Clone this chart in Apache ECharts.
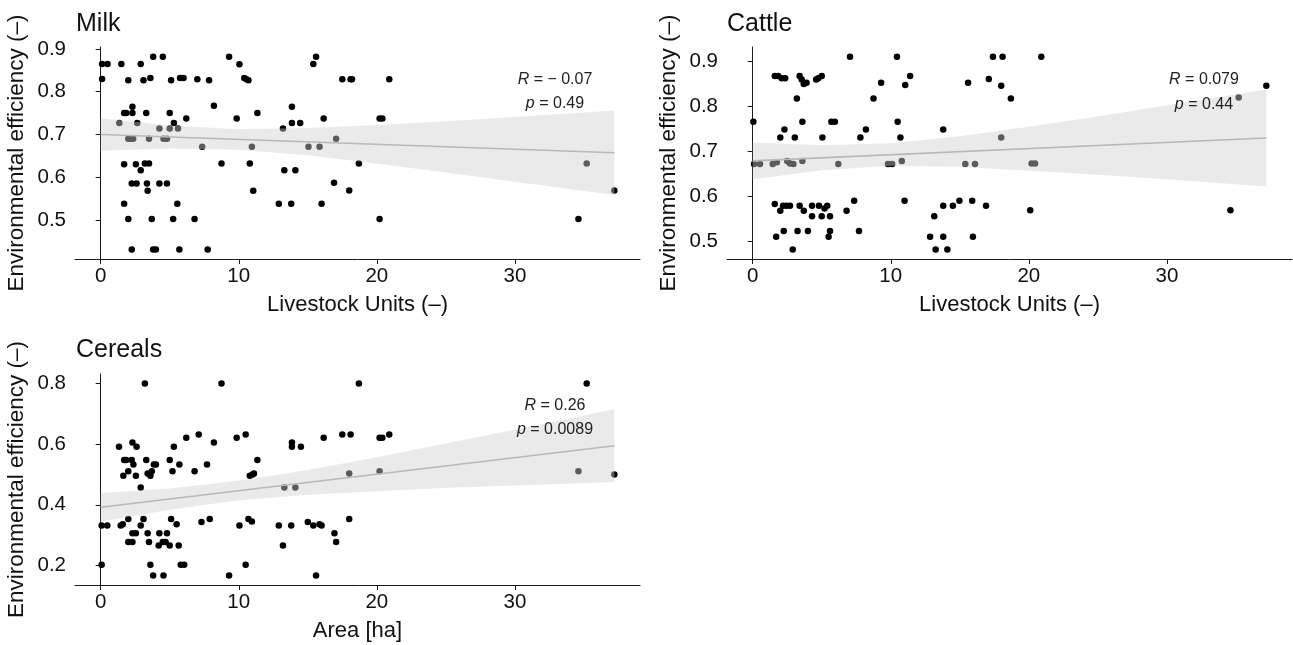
<!DOCTYPE html>
<html><head><meta charset="utf-8">
<script src="https://cdn.jsdelivr.net/npm/echarts@6/dist/echarts.min.js"></script>
<style>html,body{margin:0;padding:0;background:#fff}#c{width:1293px;height:645px}</style>
</head><body><div id="c"></div>
<script>
// ---------- data ----------
const panelTitles = ['Milk', 'Cattle', 'Cereals'];
const xAxisTitles = ['Livestock Units (–)', 'Livestock Units (–)', 'Area [ha]'];
const yAxisTitle = 'Environmental efficiency (–)';
const xTicks = [0, 10, 20, 30];
const yTicksMilk = [0.5, 0.6, 0.7, 0.8, 0.9];
const yTicksCattle = [0.5, 0.6, 0.7, 0.8, 0.9];
const yTicksCereals = [0.2, 0.4, 0.6, 0.8];

const milkPoints = [
  [0.1,0.83],[0.1,0.865],[0.5,0.865],[1.5,0.865],[2.0,0.827],[2.9,0.865],[3.1,0.827],[3.6,0.832],[3.8,0.882],[4.5,0.882],
  [5.1,0.827],[5.75,0.832],[6.0,0.832],[7.0,0.829],[7.85,0.827],[8.2,0.767],[9.3,0.882],[10.05,0.864],[10.4,0.832],[10.55,0.829],
  [10.7,0.827],[9.85,0.737],[11.35,0.75],[6.2,0.737],[1.7,0.75],[1.85,0.75],[2.3,0.765],[2.3,0.75],[3.3,0.75],[5.0,0.75],
  [5.3,0.727],[1.35,0.727],[2.65,0.727],[2.0,0.69],[2.2,0.69],[2.35,0.69],[3.5,0.69],[4.25,0.714],[4.55,0.69],[4.8,0.69],
  [5.0,0.714],[5.6,0.714],[7.35,0.671],[10.95,0.671],[13.2,0.714],[15.05,0.671],[15.85,0.671],[1.7,0.63],[2.55,0.63],[3.2,0.632],
  [3.5,0.632],[2.9,0.616],[2.25,0.585],[2.6,0.585],[3.35,0.585],[3.4,0.568],[4.25,0.585],[4.8,0.585],[1.7,0.538],[2.0,0.502],
  [3.7,0.502],[5.25,0.502],[5.55,0.538],[6.8,0.502],[2.25,0.431],[3.8,0.431],[4.0,0.431],[5.7,0.431],[7.75,0.431],[8.75,0.632],
  [10.8,0.632],[11.05,0.568],[12.9,0.538],[13.8,0.538],[13.3,0.616],[14.1,0.616],[13.85,0.765],[13.85,0.727],[14.45,0.727],[15.4,0.865],
  [15.6,0.882],[16.15,0.737],[16.0,0.538],[17.05,0.69],[17.5,0.829],[18.1,0.829],[18.2,0.829],[20.9,0.829],[20.2,0.737],[20.4,0.737],
  [18.7,0.632],[16.9,0.587],[18.0,0.569],[20.2,0.502],[34.6,0.502],[35.2,0.632],[37.2,0.569]
];
const cattlePoints = [
  [0.05,0.766],[0.1,0.672],[0.53,0.672],[1.6,0.583],[1.7,0.51],[1.6,0.868],[1.85,0.868],[2.1,0.863],[2.35,0.863],[1.45,0.672],
  [1.75,0.676],[2.0,0.731],[2.3,0.749],[2.0,0.568],[2.2,0.579],[2.45,0.579],[2.7,0.579],[2.25,0.523],[2.5,0.679],[2.7,0.673],
  [2.95,0.672],[3.05,0.731],[3.2,0.818],[2.9,0.482],[3.4,0.868],[3.55,0.86],[3.7,0.85],[3.9,0.853],[3.6,0.766],[3.6,0.679],
  [3.4,0.579],[3.7,0.568],[3.25,0.523],[4.0,0.523],[4.3,0.556],[4.3,0.579],[4.8,0.579],[4.6,0.86],[4.75,0.863],[5.0,0.868],
  [5.05,0.731],[5.0,0.556],[5.2,0.573],[5.4,0.579],[5.6,0.556],[5.6,0.523],[5.5,0.51],[5.7,0.766],[5.95,0.766],[6.2,0.672],
  [6.8,0.568],[7.05,0.911],[7.35,0.59],[7.7,0.523],[7.8,0.731],[8.2,0.749],[8.75,0.818],[9.3,0.853],[9.8,0.672],[10.1,0.672],
  [10.45,0.911],[10.5,0.766],[10.7,0.731],[10.8,0.679],[11.05,0.848],[11.4,0.868],[11.0,0.59],[12.85,0.51],[13.15,0.556],[13.25,0.482],
  [13.8,0.749],[13.8,0.579],[13.8,0.51],[14.1,0.482],[14.5,0.579],[14.97,0.59],[15.4,0.672],[16.1,0.672],[15.6,0.853],[15.9,0.59],
  [15.95,0.51],[17.4,0.911],[18.1,0.911],[17.1,0.861],[18.0,0.846],[18.7,0.818],[18.0,0.731],[16.9,0.579],[20.1,0.569],[20.2,0.673],
  [20.45,0.673],[20.9,0.911],[34.6,0.569],[35.2,0.82],[37.2,0.846]
];
const cerealsPoints = [
  [0.07,0.202],[0.07,0.332],[0.48,0.332],[1.33,0.592],[1.45,0.332],[1.6,0.336],[1.7,0.548],[1.85,0.548],[1.64,0.496],[2.0,0.511],
  [2.0,0.353],[2.0,0.277],[2.3,0.277],[2.3,0.606],[2.25,0.548],[2.37,0.533],[2.3,0.306],[2.55,0.306],[2.6,0.592],[2.55,0.496],
  [2.9,0.457],[2.9,0.332],[3.1,0.353],[3.2,0.8],[3.3,0.548],[3.4,0.306],[3.4,0.503],[3.6,0.496],[3.7,0.511],[3.85,0.533],
  [4.0,0.533],[3.5,0.277],[3.6,0.202],[3.8,0.167],[4.25,0.306],[4.8,0.306],[4.2,0.266],[4.5,0.277],[4.7,0.277],[4.55,0.167],
  [5.0,0.548],[5.1,0.353],[5.2,0.511],[5.3,0.592],[5.0,0.266],[5.5,0.336],[5.7,0.533],[5.65,0.266],[5.8,0.202],[6.05,0.202],
  [6.2,0.621],[6.8,0.511],[7.1,0.632],[7.3,0.343],[7.7,0.533],[7.9,0.353],[8.2,0.606],[8.75,0.8],[9.3,0.167],[9.85,0.621],
  [10.05,0.332],[10.5,0.632],[10.5,0.202],[10.7,0.353],[10.95,0.345],[10.8,0.496],[11.0,0.5],[11.1,0.503],[11.35,0.548],[12.9,0.332],
  [13.2,0.266],[13.3,0.457],[13.85,0.606],[13.85,0.592],[13.8,0.332],[14.1,0.457],[14.5,0.592],[15.0,0.343],[15.4,0.332],[15.85,0.336],
  [16.0,0.332],[15.6,0.167],[16.15,0.621],[16.93,0.306],[17.05,0.277],[17.5,0.632],[18.1,0.632],[18.0,0.353],[18.0,0.503],[18.7,0.8],
  [20.2,0.621],[20.4,0.621],[20.9,0.632],[20.2,0.511],[34.6,0.511],[35.2,0.8],[37.2,0.5]
];

// fitted regression lines
const fitX = [0, 37.2];
const milkFit = [0.700, 0.657];
const cattleFit = [0.679, 0.730];
const cerealsFit = [0.392, 0.595];

// confidence bands
const bandX = [0, 5, 10, 15, 20, 25, 30, 37.2];
const milkUpper = [0.738, 0.721, 0.712, 0.715, 0.722, 0.731, 0.741, 0.756];
const milkLower = [0.662, 0.667, 0.664, 0.651, 0.632, 0.611, 0.589, 0.558];
const cattleUpper = [0.720, 0.714, 0.718, 0.734, 0.755, 0.778, 0.803, 0.838];
const cattleLower = [0.638, 0.658, 0.668, 0.666, 0.657, 0.648, 0.638, 0.622];
const cerealsUpper = [0.439, 0.454, 0.479, 0.515, 0.557, 0.602, 0.648, 0.715];
const cerealsLower = [0.345, 0.384, 0.415, 0.433, 0.445, 0.456, 0.464, 0.475];

const corrR = ['− 0.07', '0.079', '0.26'];
const corrP = ['0.49', '0.44', '0.0089'];

// ---------- layout / style ----------
const FONT = '"Liberation Sans", Arial, Helvetica, sans-serif';
const BAND = 'rgba(208,208,208,0.44)';
const LINE = '#b8b8b8';
const grids = [
  {left: 75, top: 47, width: 565, height: 212},
  {left: 727, top: 47, width: 565, height: 212},
  {left: 75, top: 374, width: 565, height: 211}
];
const yRanges = [[0.4085, 0.9046], [0.4606, 0.9325], [0.1353, 0.8317]];
const xRange = [-1.86, 39.06];
const yTickSets = [yTicksMilk, yTicksCattle, yTicksCereals];
const pointSets = [milkPoints, cattlePoints, cerealsPoints];
const fitSets = [milkFit, cattleFit, cerealsFit];
const upperSets = [milkUpper, cattleUpper, cerealsUpper];
const lowerSets = [milkLower, cattleLower, cerealsLower];

const axisLine = {show: true, lineStyle: {color: '#1a1a1a', width: 1}};
const axisTick = (vals) => ({show: true, length: 5, inside: false, lineStyle: {color: '#1a1a1a', width: 1}, customValues: vals});
const axisLabel = (vals, margin) => ({show: true, color: '#111', fontSize: 20.5, fontFamily: FONT, margin: margin, customValues: vals,
  formatter: (v) => String(v)});

const xAxes = [], yAxes = [], series = [], titles = [], graphics = [];
for (let i = 0; i < 3; i++) {
  xAxes.push({
    gridIndex: i, type: 'value', min: xRange[0], max: xRange[1],
    axisLine, axisTick: axisTick(xTicks), axisLabel: axisLabel(xTicks, 7), splitLine: {show: false},
    name: xAxisTitles[i], nameLocation: 'middle', nameGap: 35,
    nameTextStyle: {fontSize: 22, fontFamily: FONT, color: '#111'}
  });
  yAxes.push({
    gridIndex: i, type: 'value', min: yRanges[i][0], max: yRanges[i][1],
    axisLine, axisTick: axisTick(yTickSets[i]), axisLabel: axisLabel(yTickSets[i], 9), splitLine: {show: false},
    name: yAxisTitle, nameLocation: 'middle', nameGap: 47,
    nameTextStyle: {fontSize: 22.5, fontFamily: FONT, color: '#111'}
  });
  series.push({
    type: 'scatter', xAxisIndex: i, yAxisIndex: i, z: 2, symbolSize: 6.5,
    itemStyle: {color: '#000', opacity: 1}, data: pointSets[i], silent: true
  });
  const up = upperSets[i], lo = lowerSets[i];
  series.push({
    type: 'custom', xAxisIndex: i, yAxisIndex: i, z: 3, silent: true,
    data: [[bandX[0], up[0]]],
    renderItem: function (params, api) {
      const pts = [];
      for (let k = 0; k < bandX.length; k++) pts.push(api.coord([bandX[k], up[k]]));
      for (let k = bandX.length - 1; k >= 0; k--) pts.push(api.coord([bandX[k], lo[k]]));
      return {type: 'polygon', shape: {points: pts}, style: {fill: BAND, stroke: null}};
    }
  });
  series.push({
    type: 'line', xAxisIndex: i, yAxisIndex: i, z: 4, silent: true, symbol: 'none',
    lineStyle: {color: LINE, width: 1.6},
    data: fitX.map((x, k) => [x, fitSets[i][k]])
  });
}

const titlePos = [[76, 12], [727, 12], [76, 338]];
for (let i = 0; i < 3; i++) {
  titles.push({text: panelTitles[i], left: titlePos[i][0], top: titlePos[i][1], padding: 0,
    textStyle: {fontSize: 25, fontWeight: 'normal', fontFamily: FONT, color: '#111'}});
}
const annPos = [[555, 80, 104], [1204, 80, 105], [555, 406, 430]];
for (let i = 0; i < 3; i++) {
  graphics.push({type: 'text', x: annPos[i][0], y: annPos[i][1], z: 10,
    style: {text: '{i|R} = ' + corrR[i], fontSize: 16, fontFamily: FONT, fill: '#222', align: 'center', verticalAlign: 'middle',
      rich: {i: {fontStyle: 'italic', fontSize: 16, fontFamily: FONT, fill: '#222'}}}});
  graphics.push({type: 'text', x: annPos[i][0], y: annPos[i][2], z: 10,
    style: {text: '{i|p} = ' + corrP[i], fontSize: 16, fontFamily: FONT, fill: '#222', align: 'center', verticalAlign: 'middle',
      rich: {i: {fontStyle: 'italic', fontSize: 16, fontFamily: FONT, fill: '#222'}}}});
}

const chart = echarts.init(document.getElementById('c'), null, {renderer: 'canvas'});
chart.setOption({
  backgroundColor: '#fff',
  animation: false,
  title: titles,
  grid: grids,
  xAxis: xAxes,
  yAxis: yAxes,
  series: series,
  graphic: graphics
});
</script>
</body></html>
